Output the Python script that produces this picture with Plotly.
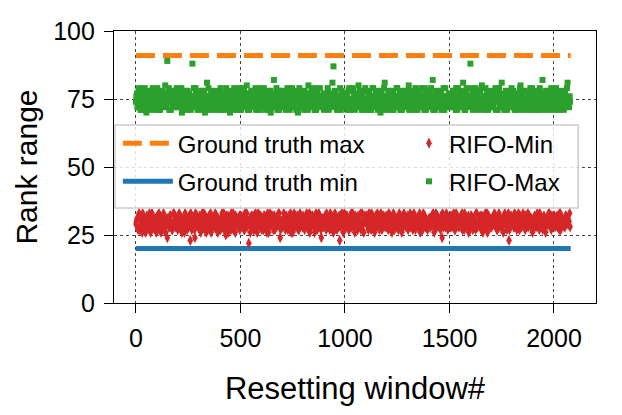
import plotly.graph_objects as go

# resetting windows, two sampled sets: every 5th window and offset by 2
window_step = 5
window_offset_b = 2
window_span = [0, 2080]
gt_max = 91
gt_min = 20

rifo_min = [
    29,31,27,33,28,30,26,32,29,27,31,30,28,33,26,29,32,28,30,27,
    31,28,33,29,26,30,32,27,29,31,24,30,28,32,29,27,33,30,28,31,
    27,30,32,29,26,31,28,33,30,27,29,32,23,30,28,31,27,33,29,30,
    28,32,26,30,29,33,27,31,28,30,32,29,26,31,30,28,33,27,29,31,
    30,27,31,28,33,29,25,30,32,28,31,27,29,33,30,26,31,29,28,32,
    29,31,28,32,27,30,33,29,22,31,28,30,32,27,29,31,26,33,30,28,
    31,29,27,32,30,28,33,26,31,29,30,32,28,27,31,30,29,33,24,30,
    28,31,30,27,32,29,31,28,33,30,26,29,32,31,28,30,27,33,29,31,
    32,28,30,29,31,27,33,30,28,32,29,26,31,30,28,33,29,27,31,30,
    29,32,27,31,30,28,33,29,31,26,30,32,28,29,31,23,30,33,28,31,
    30,28,32,29,27,31,33,30,28,29,32,30,27,31,29,33,28,30,26,32,
    31,29,28,33,30,27,32,29,31,28,30,33,29,27,31,30,28,32,29,30,
    28,30,33,29,31,26,30,32,28,31,29,27,33,30,29,31,28,32,30,29,
    32,29,30,28,31,27,33,29,30,31,28,32,26,30,29,33,31,28,30,27,
    29,31,28,32,30,29,27,33,31,28,30,29,32,24,31,30,28,33,29,31,
    30,28,31,29,33,27,30,32,29,31,28,30,33,29,27,31,30,28,32,30,
    28,32,29,31,30,27,33,28,30,31,29,32,26,30,28,31,33,29,30,28,
    31,29,30,33,28,31,27,30,32,29,28,31,30,33,29,27,31,23,30,32,
    29,30,28,32,31,29,33,27,30,28,31,30,29,32,28,33,30,29,31,27,
    30,31,29,28,33,30,27,32,29,31,30,28,26,31,29,33,30,28,32,29,
    31,28,30,32,29,27,33,30,31,29,28,32,30,31,29,33,
]

rifo_min_b = [
    30,28,32,27,31,29,33,28,30,26,32,29,31,27,30,33,28,29,31,26,
    32,30,27,31,29,28,33,30,26,29,31,28,32,30,27,29,33,31,28,30,
    29,33,28,31,27,30,26,32,29,31,28,30,33,27,29,31,24,30,32,28,
    31,27,29,33,30,28,32,26,31,29,27,33,30,28,31,29,32,30,26,28,
    28,31,33,29,27,30,32,28,26,31,29,33,30,27,28,32,30,31,29,27,
    32,29,30,27,33,31,28,30,29,26,32,31,27,29,33,30,28,31,29,32,
    27,30,32,29,31,26,30,28,33,29,31,27,32,30,28,29,33,31,27,29,
    30,33,28,31,29,27,32,30,26,31,29,33,28,30,32,27,31,29,30,28,
    29,27,31,33,28,30,26,32,29,31,30,28,33,27,29,32,30,24,31,28,
    31,29,33,28,30,27,32,29,28,31,33,30,27,29,32,28,31,30,26,33,
    28,32,30,27,31,29,28,33,30,26,31,29,32,28,30,27,33,29,31,30,
    32,30,27,31,28,33,29,30,26,32,28,31,29,30,33,27,29,31,28,32,
    30,27,29,32,28,31,33,27,30,29,31,28,32,30,26,29,33,31,28,30,
    27,31,33,29,28,30,32,27,31,29,30,33,28,31,27,29,32,30,29,28,
    31,28,30,29,33,26,31,28,32,30,29,27,31,33,28,30,29,32,27,31,
    29,32,28,30,31,27,33,29,28,31,30,32,27,29,33,28,30,31,26,29,
    32,30,27,31,29,33,28,30,29,32,27,31,30,28,33,29,26,32,31,28,
    28,31,29,32,30,27,31,33,28,30,29,26,32,31,28,30,33,27,29,31,
    30,28,33,29,27,31,30,32,28,29,33,30,27,31,29,28,32,30,31,26,
    27,32,30,29,31,28,33,29,30,27,32,31,28,30,29,33,31,27,30,29,
    32,29,31,28,30,33,27,31,29,30,28,32,29,31,30,28,
]

rifo_max = [
    74,77,72,79,75,71,76,73,78,74,70,76,73,77,75,72,79,74,71,76,
    73,78,75,71,77,74,72,76,80,73,89,75,71,77,74,78,72,76,73,79,
    75,72,77,74,70,76,73,78,75,71,74,77,73,76,88,72,75,79,74,71,
    77,73,76,72,78,75,70,74,81,73,76,72,77,74,71,75,78,73,76,72,
    74,79,71,76,73,77,75,72,78,74,70,76,73,75,79,72,77,74,71,76,
    73,78,75,72,76,74,80,71,77,73,75,78,72,76,74,71,77,75,73,79,
    72,76,74,77,71,75,73,78,74,70,76,72,82,75,73,77,74,71,76,73,
    78,74,72,76,73,79,75,71,77,74,72,76,73,78,75,70,74,77,72,76,
    74,71,77,73,76,80,72,75,78,73,76,71,74,77,72,75,79,73,76,74,
    71,77,73,75,78,72,76,74,81,87,73,77,75,72,76,74,71,78,73,75,
    77,72,76,74,79,71,75,73,78,74,76,72,77,80,73,75,71,76,74,78,
    72,75,73,77,74,71,76,79,73,75,72,78,74,76,70,77,73,75,81,72,
    76,74,78,73,75,71,77,74,72,76,79,73,75,71,78,74,76,72,77,73,
    75,80,72,76,74,78,71,75,73,77,74,72,76,79,73,75,71,78,74,76,
    72,77,73,75,82,74,71,76,78,73,75,72,77,74,76,71,79,73,75,74,
    77,72,76,74,78,73,71,75,79,74,72,76,73,81,75,71,77,74,73,76,
    88,74,77,72,75,79,73,76,71,78,74,80,72,76,73,75,77,71,74,78,
    73,76,72,75,79,74,71,77,73,76,81,72,75,74,78,71,76,73,77,75,
    72,78,74,76,73,71,77,75,80,73,76,72,78,74,75,71,77,73,76,79,
    74,72,75,78,73,76,71,77,74,82,75,72,76,73,78,74,71,75,77,73,
    76,72,79,74,75,71,77,73,76,74,78,72,75,81,73,76,
]

rifo_max_b = [
    76,72,78,74,71,77,75,73,79,72,76,74,78,71,75,73,77,72,76,74,
    79,73,71,76,74,78,75,72,77,73,75,79,74,71,76,72,78,74,73,77,
    72,76,74,79,73,71,77,75,72,78,74,76,71,75,73,79,72,77,74,76,
    74,71,78,75,73,77,72,76,74,79,71,75,78,73,76,72,74,77,75,71,
    78,73,76,72,75,71,79,74,76,73,77,72,75,78,71,74,76,73,79,75,
    71,75,73,79,72,77,74,76,71,75,78,73,76,72,79,74,73,77,71,75,
    77,74,79,72,75,73,76,71,78,74,72,77,75,73,79,71,76,74,72,78,
    73,77,75,71,78,72,76,74,73,79,75,72,77,71,74,76,79,73,75,72,
    76,78,73,75,71,77,74,72,76,75,79,73,71,78,74,72,76,75,73,77,
    74,72,76,79,71,75,73,77,74,72,78,75,71,76,73,79,74,72,77,75,
    73,76,71,78,75,72,74,79,76,71,73,77,75,72,78,74,76,73,71,79,
    75,78,74,71,76,73,79,72,75,77,74,71,76,73,78,72,75,79,74,71,
    73,77,72,75,78,74,71,76,73,79,75,72,77,74,71,76,73,78,75,72,
    78,71,75,74,72,76,73,79,77,71,75,78,72,74,76,73,79,71,75,77,
    74,76,79,72,71,75,77,73,76,74,72,78,71,75,79,73,74,76,72,77,
    72,75,73,78,74,76,79,71,72,77,75,73,78,74,71,76,79,72,75,73,
    75,79,71,74,77,72,76,75,73,78,72,74,76,71,79,73,75,77,72,74,
    77,72,75,78,71,76,74,79,73,72,75,77,71,76,74,73,78,72,75,79,
    76,74,71,73,77,75,72,79,74,76,71,78,73,75,72,77,74,79,71,76,
    73,77,76,71,75,72,79,74,73,77,75,71,78,72,76,74,73,79,75,72,
    75,71,74,77,73,78,72,76,74,71,77,73,79,75,72,74,
]

x_min = [i * window_step for i in range(len(rifo_min))] + \
        [i * window_step + window_offset_b for i in range(len(rifo_min_b))]
y_min = rifo_min + rifo_min_b
x_max = [i * window_step for i in range(len(rifo_max))] + \
        [i * window_step + window_offset_b for i in range(len(rifo_max_b))]
y_max = rifo_max + rifo_max_b

fig = go.Figure()
fig.add_trace(go.Scatter(x=window_span, y=[gt_max, gt_max], mode="lines",
                         name="Ground truth max", legend="legend", legendgroup="a",
                         line=dict(color="#ff7f0e", width=5, dash="19px,8px")))
fig.add_trace(go.Scatter(x=window_span, y=[gt_min, gt_min], mode="lines",
                         name="Ground truth min", legend="legend", legendgroup="b",
                         line=dict(color="#1f77b4", width=5)))
fig.add_trace(go.Scatter(x=x_min, y=y_min, mode="markers",
                         name="RIFO-Min", legend="legend2", legendgroup="c",
                         marker=dict(color="#d62728", symbol="diamond-tall", size=8)))
fig.add_trace(go.Scatter(x=x_max, y=y_max, mode="markers",
                         name="RIFO-Max", legend="legend2", legendgroup="d",
                         marker=dict(color="#2ca02c", symbol="square", size=6)))

axis_style = dict(showline=True, linecolor="black", linewidth=1.3, mirror=True,
                  ticks="outside", ticklen=9, tickcolor="black", tickwidth=1.3,
                  showgrid=True, gridcolor="#444", gridwidth=0.8, griddash="dot",
                  zeroline=False, automargin=False, ticklabelstandoff=4,
                  tickfont=dict(size=25, color="black"))

fig.update_xaxes(range=[-105, 2201], tickvals=[0, 500, 1000, 1500, 2000],
                 title=dict(text="Resetting window#", font=dict(size=31, color="black"),
                            standoff=26),
                 **axis_style)
fig.update_yaxes(range=[0, 100], tickvals=[0, 25, 50, 75, 100],
                 title=dict(text="Rank range", font=dict(size=30, color="black"),
                            standoff=6),
                 **axis_style)

# legend frame drawn behind two transparent legend columns
fig.add_shape(type="rect", xref="paper", yref="paper",
              x0=0.002, x1=0.963, y0=0.349, y1=0.654, layer="above",
              fillcolor="rgba(255,255,255,0.82)", line=dict(color="#cccccc", width=1.5))

legend_common = dict(yanchor="top", y=0.669, xanchor="left", tracegroupgap=4,
                     bgcolor="rgba(0,0,0,0)", borderwidth=0,
                     font=dict(size=24, color="black"))

# page body adds an 8px offset, so margins are shifted to compensate
fig.update_layout(
    width=622, height=415,
    margin=dict(l=106, r=34, t=23, b=120),
    plot_bgcolor="white", paper_bgcolor="white",
    font=dict(family="Liberation Sans, Arial, sans-serif", color="black"),
    legend=dict(x=0.008, itemwidth=50, **legend_common),
    legend2=dict(x=0.612, itemwidth=30, **legend_common),
)

fig.write_html("out.html")
